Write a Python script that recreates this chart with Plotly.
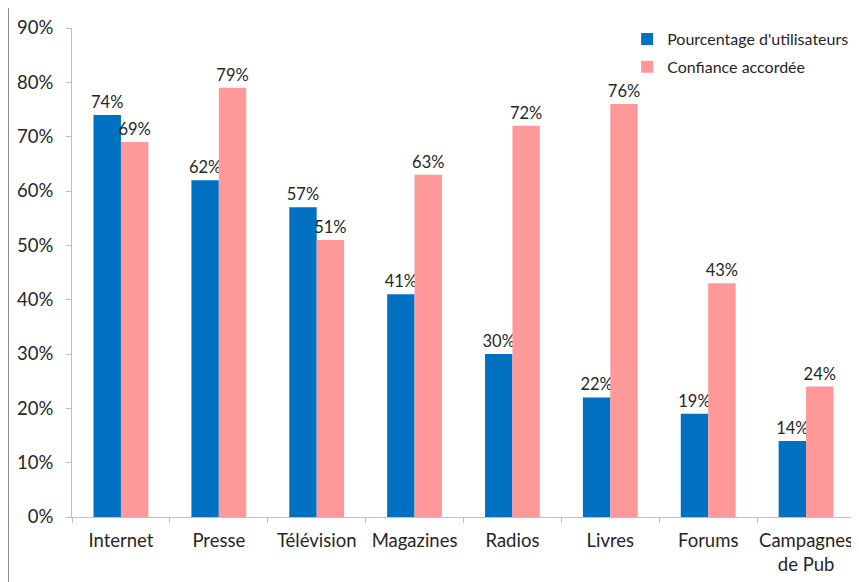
import plotly.graph_objects as go

categories = ["Internet", "Presse", "Télévision", "Magazines", "Radios", "Livres", "Forums", "Campagnes<br>de Pub"]
utilisateurs = [74, 62, 57, 41, 30, 22, 19, 14]
confiance = [69, 79, 51, 63, 72, 76, 43, 24]
series_names = ["Pourcentage d'utilisateurs", "Confiance accordée"]
colors = ["#0070C0", "#FF9999"]

FONT = "Lato, 'Open Sans', sans-serif"
TXT = "#262626"

fig = go.Figure()
for i, (name, vals, col) in enumerate(zip(series_names, [utilisateurs, confiance], colors)):
    fig.add_trace(go.Bar(
        x=categories, y=vals, name=name, legendgroup=f"g{i}",
        marker=dict(color=col, line=dict(width=0)),
        text=[f"{v}%" for v in vals], textposition="outside",
        textfont=dict(size=16.5, color=TXT, family=FONT),
        constraintext="none", cliponaxis=False,
    ))

# body has an 8px margin in the saved page, so the figure is sized 8px smaller
fig.update_layout(
    width=851, height=574,
    margin=dict(l=64, r=4, t=20, b=65, autoexpand=False),
    paper_bgcolor="white", plot_bgcolor="white",
    barmode="group", bargap=0.44, bargroupgap=0,
    font=dict(family=FONT, color=TXT),
    legend=dict(x=0.709, y=1.012, xanchor="left", yanchor="top",
                font=dict(size=16, family=FONT, color=TXT),
                itemwidth=30, tracegroupgap=4, bgcolor="rgba(0,0,0,0)"),
    showlegend=True,
    shapes=[dict(type="rect", xref="paper", yref="paper",
                 x0=-0.0817, x1=1.03, y0=-0.2, y1=1.043,
                 line=dict(color="#8C8C8C", width=2), fillcolor="rgba(0,0,0,0)", layer="below")],
)
fig.update_xaxes(showline=True, linecolor="#BFBFBF", linewidth=1, tickangle=0,
                 ticks="outside", tickson="boundaries", ticklen=5, tickcolor="#BFBFBF",
                 tickfont=dict(size=18.5, family=FONT, color=TXT), showgrid=False,
                 ticklabelstandoff=7)
fig.update_yaxes(range=[0, 90], dtick=10, ticksuffix="%", showline=True, linecolor="#BFBFBF",
                 ticks="outside", ticklen=5, tickcolor="#BFBFBF", showgrid=False, zeroline=False,
                 tickfont=dict(size=18.5, family=FONT, color=TXT), ticklabelstandoff=9)

fig.write_html("out.html")
